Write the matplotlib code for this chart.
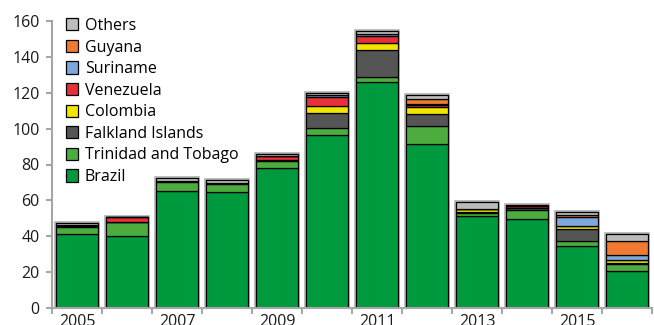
import matplotlib
matplotlib.use("Agg")
import matplotlib.pyplot as plt
from matplotlib.patches import Patch
import numpy as np

plt.rcParams['font.family'] = ['Open Sans', 'DejaVu Sans']

years = [2005, 2006, 2007, 2008, 2009, 2010, 2011, 2012, 2013, 2014, 2015, 2016]
tick_years = [2005, 2007, 2009, 2011, 2013, 2015]

# Stack order, bottom to top
series_names = ["Brazil", "Trinidad and Tobago", "Falkland Islands", "Colombia",
                "Venezuela", "Suriname", "Guyana", "Others"]

brazil    = [41.0, 40.0, 65.5, 64.5, 78.0, 96.5, 126.0, 91.5, 51.5, 49.5, 34.5, 20.5]
trinidad  = [4.0, 8.0, 5.0, 4.5, 4.0, 4.0, 3.0, 10.0, 1.2, 5.0, 3.0, 4.0]
falkland  = [0.5, 0.0, 0.5, 0.5, 0.5, 8.0, 15.0, 6.5, 1.0, 1.0, 6.5, 0.5]
colombia  = [0.0, 0.0, 0.0, 0.0, 0.0, 4.0, 3.5, 4.0, 1.5, 0.5, 1.5, 1.5]
venezuela = [1.0, 3.0, 0.0, 0.0, 2.5, 5.0, 4.0, 1.0, 0.0, 0.7, 0.0, 0.3]
suriname  = [0.0, 0.0, 0.0, 0.0, 0.0, 1.0, 1.5, 1.0, 0.0, 0.0, 5.0, 3.0]
guyana    = [0.0, 0.0, 0.0, 0.0, 0.0, 0.0, 0.0, 2.5, 0.0, 0.0, 1.5, 7.5]
others    = [0.7, 0.0, 1.5, 2.0, 1.0, 1.5, 1.5, 2.5, 4.0, 0.8, 1.5, 3.7]

series_values = [brazil, trinidad, falkland, colombia, venezuela, suriname, guyana, others]
colors = ["#009a3e", "#4cad3e", "#555555", "#f2e500",
          "#e8303a", "#7ea8dc", "#f07a32", "#bcbcbc"]

fig = plt.figure(figsize=(6.54, 3.25), dpi=100)
ax = fig.add_axes([52 / 654, 17 / 325, 600 / 654, 287 / 325])

x = np.arange(len(years))
width = 0.84
totals = np.sum(np.array(series_values), axis=0)

# soft grey halo around each stacked column
ax.bar(x, totals, width=width, color="none", edgecolor="#b0b0b0",
       linewidth=2.6, zorder=1)

bottom = np.zeros(len(years))
for name, vals, col in zip(series_names, series_values, colors):
    vals = np.array(vals)
    ax.bar(x, vals, width=width, bottom=bottom, color=col,
           edgecolor="black", linewidth=0.9, zorder=2)
    bottom += vals

ax.set_xlim(-0.5, len(years) - 0.5)
ax.set_ylim(0, 160)

ax.set_yticks(np.arange(0, 161, 20))
ax.tick_params(axis="y", length=4, width=1.5, color="#a6a6a6",
               labelsize=11.5, pad=5, labelcolor="#1a1a1a")

ax.set_xticks([years.index(y) for y in tick_years])
ax.set_xticklabels([str(y) for y in tick_years])
ax.set_xticks(np.arange(-0.5, len(years)), minor=True)
ax.tick_params(axis="x", which="major", length=0, labelsize=11.5, pad=4,
               labelcolor="#1a1a1a")
ax.tick_params(axis="x", which="minor", length=4, width=1.5, color="#a6a6a6")

for side in ["top", "right"]:
    ax.spines[side].set_visible(False)
for side in ["left", "bottom"]:
    ax.spines[side].set_color("#a6a6a6")
    ax.spines[side].set_linewidth(1.5)

handles = [Patch(facecolor=c, edgecolor="black", linewidth=0.9)
           for c in colors][::-1]
labels = series_names[::-1]
ax.legend(handles, labels, loc="upper left", bbox_to_anchor=(0.012, 1.033),
          frameon=False, fontsize=11.5, handlelength=0.8, handleheight=0.8,
          handletextpad=0.4, labelspacing=0.35, borderaxespad=0.0)

fig.savefig("out.png", dpi=100)
